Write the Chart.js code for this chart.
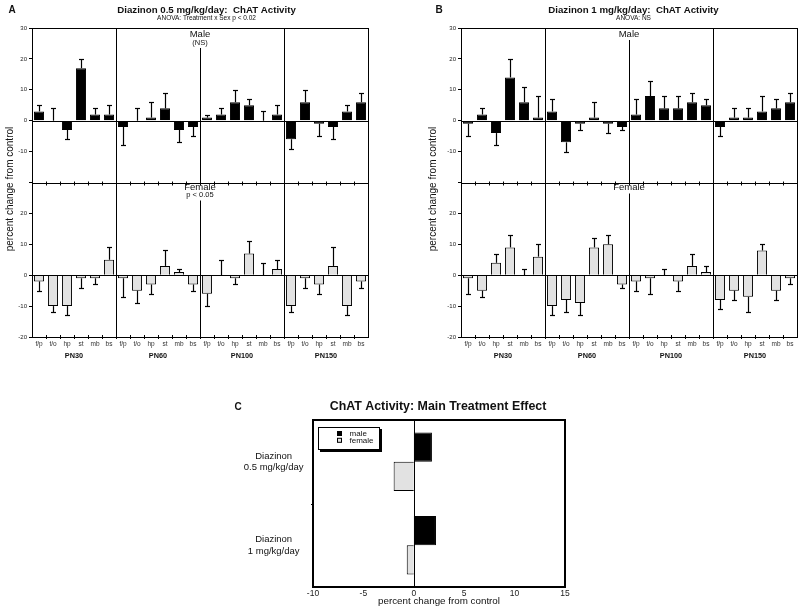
<!DOCTYPE html>
<html>
<head>
<meta charset="utf-8">
<script src="https://cdn.jsdelivr.net/npm/chart.js@4.4.1/dist/chart.umd.min.js"></script>
<style>
  body { margin: 0; background: #fff; }
  #wrap { position: relative; width: 800px; height: 611px; overflow: hidden; }
  canvas { position: absolute; }
</style>
</head>
<body>
<div id="wrap">
  <canvas id="chartA" width="400" height="370" style="left:0;top:0"></canvas>
  <canvas id="chartB" width="400" height="370" style="left:400px;top:0"></canvas>
  <canvas id="chartC" width="380" height="216" style="left:220px;top:395px"></canvas>
</div>

<script type="text/JavaScript">

//------------------------------------------------------------------------------------------
// Data (percent change from control)
//------------------------------------------------------------------------------------------

var regions = ["f/p", "t/o", "hp", "st", "mb", "bs"];
var ages = ["PN30", "PN60", "PN100", "PN150"];

// Diazinon 0.5 mg/kg/day
var maleA      = [3, 0, -3, 17, 2, 2,   -2, 0, 1, 4, -3, -2,   1, 2, 6, 5, 0, 2,   -6, 6, -1, -2, 3, 6];
var maleAErr   = [2, 4, 3, 3, 2, 3,     6, 4, 5, 5, 4, 3,      1, 2, 4, 2, 3, 3,   3, 4, 4, 4, 2, 3];
var femaleA    = [-2, -10, -10, -1, -1, 5,   -1, -5, -3, 3, 1, -3,   -6, 0, -1, 7, 0, 2,   -10, -1, -3, 3, -10, -2];
var femaleAErr = [3, 2, 3, 3, 2, 4,     6, 4, 3, 5, 1, 2,      4, 5, 2, 4, 4, 3,   2, 3, 3, 6, 3, 2];

// Diazinon 1 mg/kg/day
var maleB      = [-1, 2, -4, 14, 6, 1,   3, -7, -1, 1, -1, -2,   2, 8, 4, 4, 6, 5,   -2, 1, 1, 3, 4, 6];
var maleBErr   = [4, 2, 4, 6, 5, 7,     4, 3, 2, 5, 3, 1,      5, 5, 4, 4, 3, 2,   3, 3, 3, 5, 3, 3];
var femaleB    = [-1, -5, 4, 9, 0, 6,   -10, -8, -9, 9, 10, -3,   -2, -1, 0, -2, 3, 1,   -8, -5, -7, 8, -5, -1];
var femaleBErr = [5, 2, 3, 4, 2, 4,     3, 4, 4, 3, 3, 1,      3, 5, 2, 3, 4, 2,   3, 3, 5, 2, 3, 2];

// main treatment effect
var doseLabels = [["Diazinon", "0.5 mg/kg/day"], ["Diazinon", "1 mg/kg/day"]];
var maleMain   = [1.8, 2.2];
var femaleMain = [-2.0, -0.7];

var yTicks = [-20, -10, 0, 10, 20, 30];
var xTicksC = [-10, -5, 0, 5, 10, 15];

//------------------------------------------------------------------------------------------
// Helpers
//------------------------------------------------------------------------------------------

var FONT = '"Liberation Sans", Arial, Helvetica, sans-serif';
var MALE_COLOR = "#000";
var FEMALE_COLOR = "#e2e2e2";

function line(ctx, x1, y1, x2, y2) {
    ctx.beginPath();
    ctx.moveTo(x1, y1);
    ctx.lineTo(x2, y2);
    ctx.stroke();
}

function text(ctx, s, x, y, size, bold, align) {
    ctx.font = (bold ? "bold " : "") + size + "px " + FONT;
    ctx.textAlign = align || "center";
    ctx.textBaseline = "middle";
    ctx.fillText(s, x, y);
}

// decorations for panels A and B: error bars, frames, dividers, labels
var panelDeco = {
    id: "panelDeco",
    afterDatasetsDraw: function(chart, args, opt) {
        var ctx = chart.ctx, a = chart.chartArea;
        var x = chart.scales.x, yM = chart.scales.yM, yF = chart.scales.yF;
        var slot = x.width / chart.data.labels.length;
        ctx.save();
        ctx.strokeStyle = "#000";
        ctx.fillStyle = "#111";
        ctx.lineWidth = 1;

        // error bars
        chart.data.datasets.forEach(function(ds) {
            var ys = chart.scales[ds.yAxisID];
            ds.data.forEach(function(v, i) {
                var e = ds.err[i];
                var px = Math.round(x.getPixelForValue(i)) + 0.5;
                var p0 = ys.getPixelForValue(v);
                var p1 = Math.round(ys.getPixelForValue(v >= 0 ? v + e : v - e)) + 0.5;
                ctx.lineWidth = 1.2;
                line(ctx, px, p0, px, p1);
                line(ctx, px - 2.5, p1, px + 2.5, p1);
            });
        });
        ctx.lineWidth = 1;

        // frame, junction and zero lines
        ctx.strokeRect(Math.round(a.left) + 0.5, Math.round(a.top) + 0.5, Math.round(a.width), Math.round(a.height));
        var jy = Math.round(yM.bottom) + 0.5;
        line(ctx, a.left, jy, a.right, jy);
        [yM, yF].forEach(function(s) {
            var zy = Math.round(s.getPixelForValue(0)) + 0.5;
            line(ctx, a.left, zy, a.right, zy);
        });

        // group dividers
        for (var k = 1; k < ages.length; k++) {
            var bx = Math.round(x.left + k * regions.length * slot) + 0.5;
            if (k === 2) {
                line(ctx, bx, yM.top + opt.maleStart, bx, yM.bottom);
                line(ctx, bx, yF.top + opt.femaleStart, bx, yF.bottom);
            } else {
                line(ctx, bx, a.top, bx, a.bottom);
            }
        }

        // boundary ticks
        for (var j = 1; j < chart.data.labels.length; j++) {
            var tx = Math.round(x.left + j * slot) + 0.5;
            line(ctx, tx, jy - 2, tx, jy + 2);
            line(ctx, tx, a.bottom - 2, tx, a.bottom + 2);
        }

        // panel labels
        var mid = x.left + x.width / 2;
        text(ctx, "Male", mid, yM.top + 6, 9.5, false);
        if (opt.maleNote) text(ctx, opt.maleNote, mid, yM.top + 14.5, 7.5, false);
        text(ctx, "Female", mid, yF.top + 5, 9.5, false);
        if (opt.femaleNote) text(ctx, opt.femaleNote, mid, yF.top + 12.5, 7.5, false);

        // age group labels
        ages.forEach(function(g, gi) {
            text(ctx, g, x.left + (gi * regions.length + regions.length / 2) * slot, 356, 7.3, true);
        });

        // titles
        text(ctx, opt.letter, opt.letterX, 10, 10, true);
        text(ctx, opt.title, opt.titleX, 10, 9.7, true);
        text(ctx, opt.subtitle, opt.titleX, 18.5, 6.5, false);

        // y axis title
        ctx.save();
        ctx.translate(opt.yTitleX, 189);
        ctx.rotate(-Math.PI / 2);
        text(ctx, "percent change from control", 0, 0, 10, false);
        ctx.restore();

        ctx.restore();
    }
};

function yAxis(hide, weight, width) {
    return {
        type: "linear", position: "left", stack: "col", stackWeight: 1, weight: weight,
        min: yTicks[0], max: yTicks[yTicks.length - 1],
        afterBuildTicks: function(s) { s.ticks = yTicks.map(function(v) { return { value: v }; }); },
        grid: { display: true, drawOnChartArea: false, drawTicks: true, tickLength: 3, color: "#000" },
        border: { display: false },
        ticks: {
            padding: 2, color: "#222", font: { family: FONT, size: 6 },
            callback: function(v) { return v === hide ? "" : v; }
        },
        afterFit: function(s) { s.width = width; }
    };
}

function makePanel(id, male, maleErr, female, femaleErr, deco, axisWidth, padRight) {
    var labels = [];
    ages.forEach(function() { regions.forEach(function(r) { labels.push(r); }); });
    var ctx = document.getElementById(id).getContext("2d");
    return new Chart(ctx, {
        type: "bar",
        data: {
            labels: labels,
            datasets: [
                { label: "male", data: male, err: maleErr, yAxisID: "yM", grouped: false,
                  backgroundColor: MALE_COLOR, borderColor: "#000", borderWidth: 1,
                  barPercentage: 0.72, categoryPercentage: 1 },
                { label: "female", data: female, err: femaleErr, yAxisID: "yF", grouped: false,
                  backgroundColor: FEMALE_COLOR, borderColor: "#000", borderWidth: 1,
                  barPercentage: 0.72, categoryPercentage: 1 }
            ]
        },
        options: {
            responsive: false, animation: false, devicePixelRatio: 1,
            layout: { padding: { top: 28, right: padRight, left: 0, bottom: 0 } },
            plugins: { legend: { display: false }, tooltip: { enabled: false }, panelDeco: deco },
            scales: {
                x: {
                    offset: true,
                    grid: { display: false, drawTicks: false },
                    border: { display: false },
                    ticks: { autoSkip: false, maxRotation: 0, padding: 3, color: "#333", font: { family: FONT, size: 6.5 } },
                    afterFit: function(s) { s.height = 33; }
                },
                yF: yAxis(30, 0, axisWidth),
                yM: yAxis(-20, 1, axisWidth)
            }
        },
        plugins: [panelDeco]
    });
}

//------------------------------------------------------------------------------------------
// Panels A and B
//------------------------------------------------------------------------------------------

makePanel("chartA", maleA, maleAErr, femaleA, femaleAErr, {
    letter: "A", letterX: 12, title: "Diazinon 0.5 mg/kg/day:  ChAT Activity",
    subtitle: "ANOVA: Treatment x Sex p < 0.02", titleX: 206.5,
    maleNote: "(NS)", femaleNote: "p < 0.05", maleStart: 20, femaleStart: 18, yTitleX: 10
}, 32, 32);

makePanel("chartB", maleB, maleBErr, femaleB, femaleBErr, {
    letter: "B", letterX: 39, title: "Diazinon 1 mg/kg/day:  ChAT Activity",
    subtitle: "ANOVA: NS", titleX: 233.5,
    maleNote: "", femaleNote: "", maleStart: 12, femaleStart: 11, yTitleX: 33
}, 61, 3);

//------------------------------------------------------------------------------------------
// Panel C
//------------------------------------------------------------------------------------------

var mainDeco = {
    id: "mainDeco",
    afterDatasetsDraw: function(chart) {
        var ctx = chart.ctx, a = chart.chartArea;
        var x = chart.scales.x, y = chart.scales.y;
        ctx.save();
        ctx.strokeStyle = "#000";
        ctx.fillStyle = "#111";

        // zero line
        ctx.lineWidth = 1;
        var zx = Math.round(x.getPixelForValue(0)) + 0.5;
        line(ctx, zx, a.top, zx, a.bottom);

        // frame
        ctx.lineWidth = 2;
        ctx.strokeRect(a.left, a.top, a.width, a.height);

        // tick between categories
        ctx.lineWidth = 1;
        var my = Math.round((y.top + y.bottom) / 2) + 0.5;
        line(ctx, a.left - 2, my, a.left, my);

        // legend box with shadow
        var lx = 98, ly = 32, lw = 62, lh = 23;
        ctx.fillStyle = "#000";
        ctx.fillRect(lx + 2, ly + 2, lw, lh);
        ctx.fillStyle = "#fff";
        ctx.fillRect(lx, ly, lw, lh);
        ctx.lineWidth = 1;
        ctx.strokeRect(lx + 0.5, ly + 0.5, lw - 1, lh - 1);
        chart.data.datasets.forEach(function(ds, i) {
            var sy = ly + 4 + i * 6.8;
            ctx.fillStyle = ds.backgroundColor;
            ctx.fillRect(117, sy, 5, 5);
            ctx.strokeRect(117.5, sy + 0.5, 4, 4);
            ctx.fillStyle = "#111";
            text(ctx, ds.label, 129.5, sy + 2.5, 8, false, "left");
        });

        // titles
        text(ctx, "C", 18, 12, 10, true);
        text(ctx, "ChAT Activity: Main Treatment Effect", 218, 12, 12.4, true);
        text(ctx, "percent change from control", (a.left + a.right) / 2, 206, 9.8, false);
        ctx.restore();
    }
};

new Chart(document.getElementById("chartC").getContext("2d"), {
    type: "bar",
    data: {
        labels: doseLabels,
        datasets: [
            { label: "male", data: maleMain, backgroundColor: MALE_COLOR, borderColor: "#000", borderWidth: 1 },
            { label: "female", data: femaleMain, backgroundColor: FEMALE_COLOR, borderColor: "#000", borderWidth: 1 }
        ]
    },
    options: {
        indexAxis: "y", responsive: false, animation: false, devicePixelRatio: 1,
        layout: { padding: { top: 25, right: 35, left: 0, bottom: 0 } },
        datasets: { bar: { barPercentage: 1, categoryPercentage: 0.7 } },
        plugins: { legend: { display: false }, tooltip: { enabled: false } },
        scales: {
            x: {
                min: xTicksC[0], max: xTicksC[xTicksC.length - 1],
                afterBuildTicks: function(s) { s.ticks = xTicksC.map(function(v) { return { value: v }; }); },
                grid: { display: false, drawTicks: false },
                border: { display: false },
                ticks: { padding: 2, color: "#222", font: { family: FONT, size: 8.5 } },
                afterFit: function(s) { s.height = 24; }
            },
            y: {
                grid: { display: false, drawTicks: false },
                border: { display: false },
                ticks: { crossAlign: "center", padding: 9.5, color: "#111", font: { family: FONT, size: 9.5 } },
                afterFit: function(s) { s.width = 93; }
            }
        }
    },
    plugins: [mainDeco]
});

</script>
</body>
</html>
